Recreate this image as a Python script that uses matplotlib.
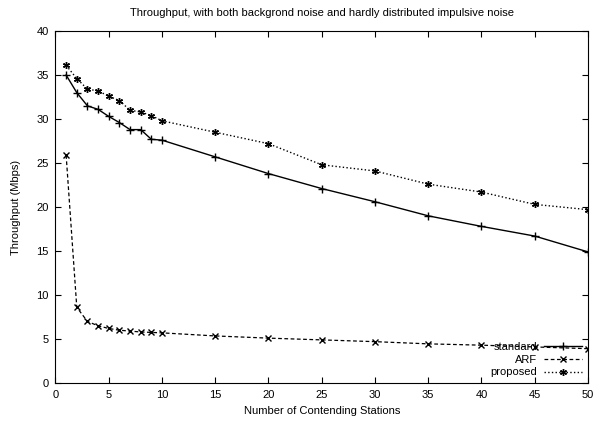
import matplotlib
matplotlib.use("Agg")
import matplotlib.pyplot as plt

plt.rcParams["font.family"] = ["Liberation Sans", "DejaVu Sans"]

# Number of contending stations
stations = [1, 2, 3, 4, 5, 6, 7, 8, 9, 10, 15, 20, 25, 30, 35, 40, 45, 50]

# Throughput values (Mbps)
standard = [35.0, 33.0, 31.5, 31.1, 30.3, 29.6, 28.8, 28.8, 27.7, 27.6,
            25.7, 23.8, 22.1, 20.6, 19.0, 17.8, 16.7, 14.9]
arf = [25.9, 8.6, 7.0, 6.5, 6.2, 6.0, 5.9, 5.8, 5.75, 5.7,
       5.35, 5.1, 4.9, 4.7, 4.45, 4.3, 4.1, 3.9]
proposed = [36.1, 34.6, 33.4, 33.2, 32.6, 32.1, 31.0, 30.8, 30.4, 29.8,
            28.5, 27.2, 24.8, 24.1, 22.6, 21.7, 20.3, 19.7]

fig = plt.figure(figsize=(5.94, 4.22), dpi=100)
ax = fig.add_axes([0.0934, 0.0924, 0.8965, 0.834])

ax.plot(stations, standard, "k-", marker="+", markersize=6, linewidth=1.0, label="standard")
ax.plot(stations, arf, "k--", marker="x", markersize=4.5, linewidth=0.9,
        dashes=(3, 2), label="ARF")
ax.plot(stations, proposed, "k:", marker=(6, 2, 0), markersize=5, linewidth=1.0,
        label="proposed")

ax.set_xlim(0, 50)
ax.set_ylim(0, 40)
ax.set_xticks(range(0, 51, 5))
ax.set_yticks(range(0, 41, 5))
ax.tick_params(direction="in", top=True, right=True, labelsize=8, length=4, pad=5)

ax.set_xlabel("Number of Contending Stations", fontsize=8, labelpad=4)
ax.set_ylabel("Throughput (Mbps)", fontsize=8, labelpad=11)
ax.set_title("Throughput, with both backgrond noise and hardly distributed impulsive noise",
             fontsize=8, pad=10.5)

ax.legend(loc="lower right", frameon=False, markerfirst=False, fontsize=8,
          handlelength=3.5, labelspacing=0.25, borderaxespad=0.1,
          handletextpad=0.6)

fig.savefig("out.png", dpi=100)
